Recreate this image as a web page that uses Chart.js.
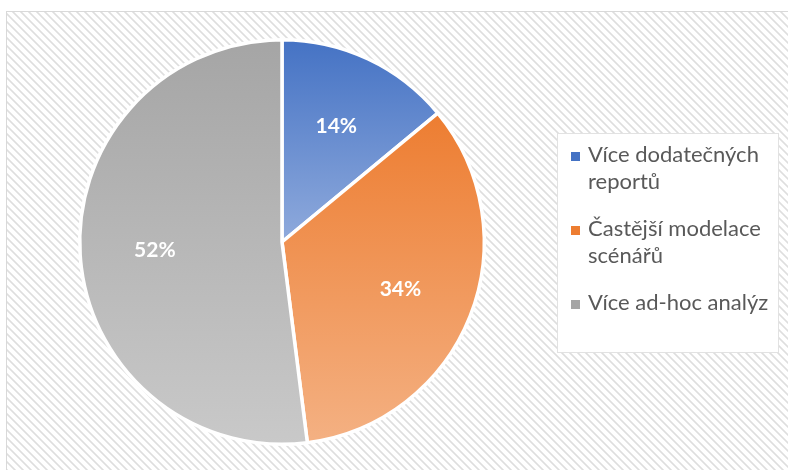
<!DOCTYPE html>
<html>
<head>
<meta charset="utf-8">
<script src="https://cdn.jsdelivr.net/npm/chart.js@4.4.1/dist/chart.umd.min.js"></script>
<style>
  html, body { margin: 0; padding: 0; background: #fff; }
  #wrap { width: 788px; height: 470px; }
</style>
</head>
<body>
<div id="wrap"><canvas id="pieChart" width="788" height="470"></canvas></div>
<script>
// data
const categories = [['Více dodatečných', 'reportů'], ['Častější modelace', 'scénářů'], ['Více ad-hoc analýz']];
const values = [14, 34, 52];
// top and bottom colours of each slice gradient
const colorsTop = ['#4472C4', '#ED7D31', '#A5A5A5'];
const colorsBottom = ['#8FAADC', '#F4B183', '#C9C9C9'];

const total = values.reduce((a, b) => a + b, 0);

// vertical gradient over the height of a single slice
function sliceGradient(context) {
    const chart = context.chart;
    const area = chart.chartArea;
    if (!area) return colorsTop[context.dataIndex];
    const i = context.dataIndex;
    const cx = (area.left + area.right) / 2;
    const cy = (area.top + area.bottom) / 2;
    const r = Math.min(area.right - area.left, area.bottom - area.top) / 2;
    let before = 0;
    for (let k = 0; k < i; k++) before += values[k];
    const a0 = -Math.PI / 2 + 2 * Math.PI * before / total;
    const a1 = a0 + 2 * Math.PI * values[i] / total;
    let ys = [cy, cy + r * Math.sin(a0), cy + r * Math.sin(a1)];
    // check if the top / bottom of the circle lies inside the slice
    [-Math.PI / 2, Math.PI / 2, 3 * Math.PI / 2].forEach(a => {
        if (a >= a0 && a <= a1) ys.push(cy + r * Math.sin(a));
    });
    const g = chart.ctx.createLinearGradient(0, Math.min(...ys), 0, Math.max(...ys));
    g.addColorStop(0, colorsTop[i]);
    g.addColorStop(1, colorsBottom[i]);
    return g;
}

// hatched panel behind everything
const panelBackground = {
    id: 'panelBackground',
    beforeDraw(chart) {
        const ctx = chart.ctx;
        const w = chart.width, h = chart.height;
        const tile = document.createElement('canvas');
        tile.width = 8; tile.height = 8;
        const tctx = tile.getContext('2d');
        tctx.fillStyle = '#ffffff';
        tctx.fillRect(0, 0, 8, 8);
        for (let y = 0; y < 8; y++) {
            for (let x = 0; x < 8; x++) {
                const d = ((x - y) % 8 + 8) % 8;
                if (d < 3) {
                    tctx.fillStyle = d === 1 ? '#dedede' : '#e9e9e9';
                    tctx.fillRect(x, y, 1, 1);
                }
            }
        }
        ctx.save();
        ctx.fillStyle = '#ffffff';
        ctx.fillRect(0, 0, w, h);
        ctx.fillStyle = ctx.createPattern(tile, 'repeat');
        ctx.fillRect(7, 12, w - 7, h - 12);
        ctx.strokeStyle = '#d9d9d9';
        ctx.lineWidth = 1;
        ctx.strokeRect(6.5, 11.5, w, h);
        ctx.restore();
    }
};

// percent labels inside the slices
const sliceLabels = {
    id: 'sliceLabels',
    afterDatasetsDraw(chart) {
        const ctx = chart.ctx;
        const meta = chart.getDatasetMeta(0);
        ctx.save();
        ctx.font = 'bold 21px Lato';
        ctx.fillStyle = '#ffffff';
        ctx.textAlign = 'center';
        ctx.textBaseline = 'middle';
        meta.data.forEach((arc, i) => {
            const p = arc.getProps(['x', 'y', 'startAngle', 'endAngle', 'outerRadius']);
            const mid = (p.startAngle + p.endAngle) / 2;
            const rr = p.outerRadius * 0.63;
            const pct = Math.round(values[i] / total * 100) + '%';
            ctx.fillText(pct, p.x + rr * Math.cos(mid), p.y + rr * Math.sin(mid));
        });
        ctx.restore();
    }
};

// legend in a white box on the right, with wrapped labels
const boxLegend = {
    id: 'boxLegend',
    afterDraw(chart) {
        const ctx = chart.ctx;
        const left = 557, top = 133, width = 222, height = 220;
        ctx.save();
        ctx.fillStyle = '#ffffff';
        ctx.fillRect(left, top, width, height);
        ctx.strokeStyle = '#e2e2e2';
        ctx.lineWidth = 1;
        ctx.strokeRect(left + 0.5, top + 0.5, width - 1, height - 1);
        ctx.font = '22px Lato';
        ctx.textBaseline = 'alphabetic';
        ctx.textAlign = 'left';
        let y = 162;
        chart.data.labels.forEach((lines, i) => {
            ctx.fillStyle = colorsTop[i];
            ctx.fillRect(571, y - 10, 9, 9);
            ctx.fillStyle = '#595959';
            lines.forEach((line, j) => {
                ctx.fillText(line, 588, y);
                y += 27;
            });
            y += 20;
        });
        ctx.restore();
    }
};

const ctx = document.getElementById('pieChart').getContext('2d');
new Chart(ctx, {
    type: 'pie',
    data: {
        labels: categories,
        datasets: [{
            data: values,
            backgroundColor: sliceGradient,
            borderColor: '#ffffff',
            borderWidth: 3.5
        }]
    },
    options: {
        responsive: false,
        animation: false,
        layout: {
            padding: { left: 78, right: 302, top: 38, bottom: 24 }
        },
        plugins: {
            legend: { display: false },
            tooltip: { enabled: false }
        }
    },
    plugins: [panelBackground, sliceLabels, boxLegend]
});
</script>
</body>
</html>
